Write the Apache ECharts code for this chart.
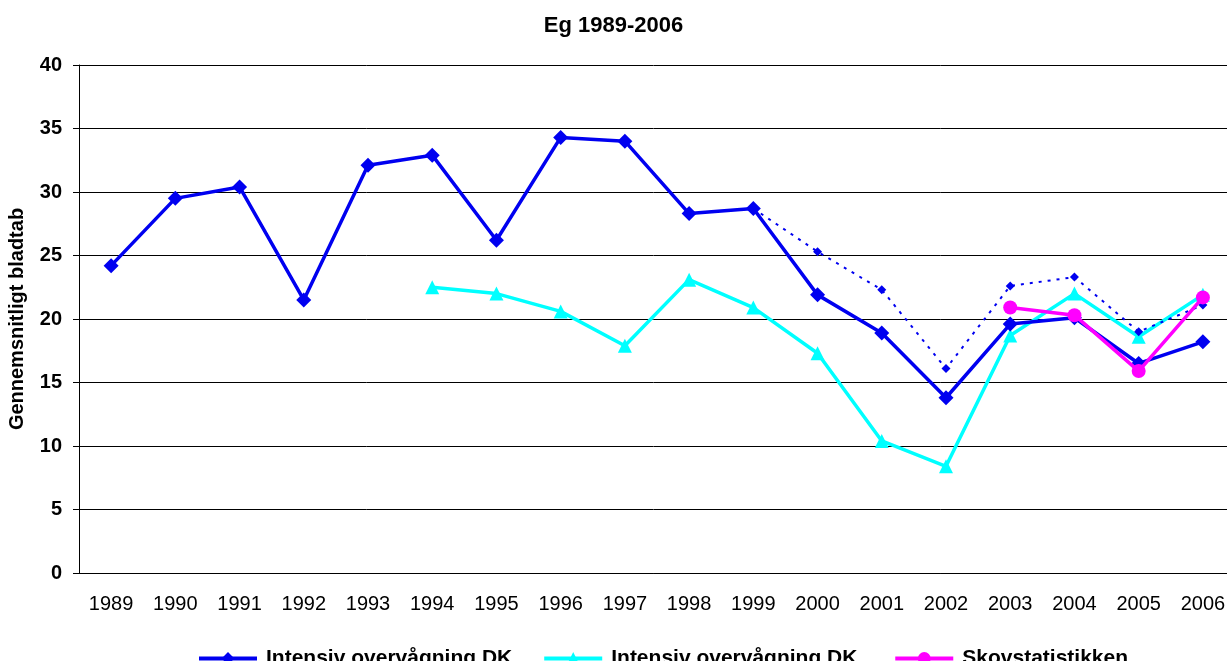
<!DOCTYPE html>
<html>
<head>
<meta charset="utf-8">
<script src="https://cdn.jsdelivr.net/npm/echarts@6/dist/echarts.min.js"></script>
<style>
  html, body { margin: 0; padding: 0; background: #fff; }
  #main { width: 1227px; height: 661px; }
</style>
</head>
<body>
<div id="main"></div>
<script>
var years = ['1989', '1990', '1991', '1992', '1993', '1994', '1995', '1996', '1997',
  '1998', '1999', '2000', '2001', '2002', '2003', '2004', '2005', '2006'];

var intensivDK = [24.2, 29.5, 30.4, 21.5, 32.1, 32.9, 26.2, 34.3, 34.0,
  28.3, 28.7, 21.9, 18.9, 13.8, 19.6, 20.1, 16.5, 18.2];

// dotted continuation, not in the legend
var intensivDKDotted = [null, null, null, null, null, null, null, null, null,
  null, 28.7, 25.3, 22.3, 16.1, 22.6, 23.3, 19.0, 21.1];

var intensivDK2 = [null, null, null, null, null, 22.5, 22.0, 20.6, 17.9,
  23.1, 20.9, 17.3, 10.4, 8.4, 18.7, 22.0, 18.6, 21.9];

var skovstatistik = [null, null, null, null, null, null, null, null, null,
  null, null, null, null, null, 20.9, 20.3, 15.9, 21.7];

var font = 'Arial, "Liberation Sans", sans-serif';

var myChart = echarts.init(document.getElementById('main'));

var option = {
  animation: false,
  title: {
    text: 'Eg 1989-2006',
    left: 'center',
    top: 10,
    textStyle: { fontFamily: font, fontSize: 22, fontWeight: 'bold', color: '#000' }
  },
  grid: { left: 79, right: -8, top: 65, bottom: 88, outerBoundsMode: 'none' },
  legend: {
    top: 643,
    left: 192,
    itemWidth: 58,
    itemHeight: 16,
    itemGap: 30,
    lineStyle: { width: 4 },
    data: ['Intensiv overvågning DK', 'Intensiv overvågning DK ', 'Skovstatistikken'],
    textStyle: { fontFamily: font, fontSize: 21, fontWeight: 'bold', color: '#000', padding: [0, 0, 0, 4] }
  },
  xAxis: {
    type: 'category',
    data: years,
    boundaryGap: true,
    axisLine: { lineStyle: { color: '#000', width: 1 } },
    axisTick: { interval: 0, length: 6, lineStyle: { color: '#000' } },
    axisLabel: { interval: 0, margin: 21, fontFamily: font, fontSize: 20, color: '#000' }
  },
  yAxis: {
    type: 'value',
    min: 0,
    max: 40,
    interval: 5,
    name: 'Gennemsnitligt bladtab',
    nameLocation: 'middle',
    nameRotate: 90,
    nameGap: 52,
    nameTextStyle: { fontFamily: font, fontSize: 20, fontWeight: 'bold', color: '#000' },
    axisLine: { show: true, lineStyle: { color: '#000', width: 1 } },
    axisTick: { show: true, length: 6, lineStyle: { color: '#000' } },
    axisLabel: { margin: 17, fontFamily: font, fontSize: 20, fontWeight: 'bold', color: '#000' },
    splitLine: { lineStyle: { color: '#000', width: 1 } }
  },
  series: [
    {
      name: 'Intensiv overvågning DK',
      type: 'line',
      data: intensivDK,
      color: '#0000F0',
      symbol: 'diamond',
      symbolSize: 15,
      lineStyle: { width: 3.5 },
      z: 4
    },
    {
      name: 'dotted',
      type: 'line',
      data: intensivDKDotted,
      color: '#0000F0',
      symbol: 'diamond',
      symbolSize: 9,
      lineStyle: { width: 2, type: [3, 6] },
      z: 3
    },
    {
      name: 'Intensiv overvågning DK ',
      type: 'line',
      data: intensivDK2,
      color: '#00FFFF',
      symbol: 'triangle',
      symbolSize: 14,
      lineStyle: { width: 3.5 },
      z: 2
    },
    {
      name: 'Skovstatistikken',
      type: 'line',
      data: skovstatistik,
      color: '#FF00FF',
      symbol: 'circle',
      symbolSize: 14,
      lineStyle: { width: 3.5 },
      z: 5
    }
  ]
};

myChart.setOption(option);
</script>
</body>
</html>
